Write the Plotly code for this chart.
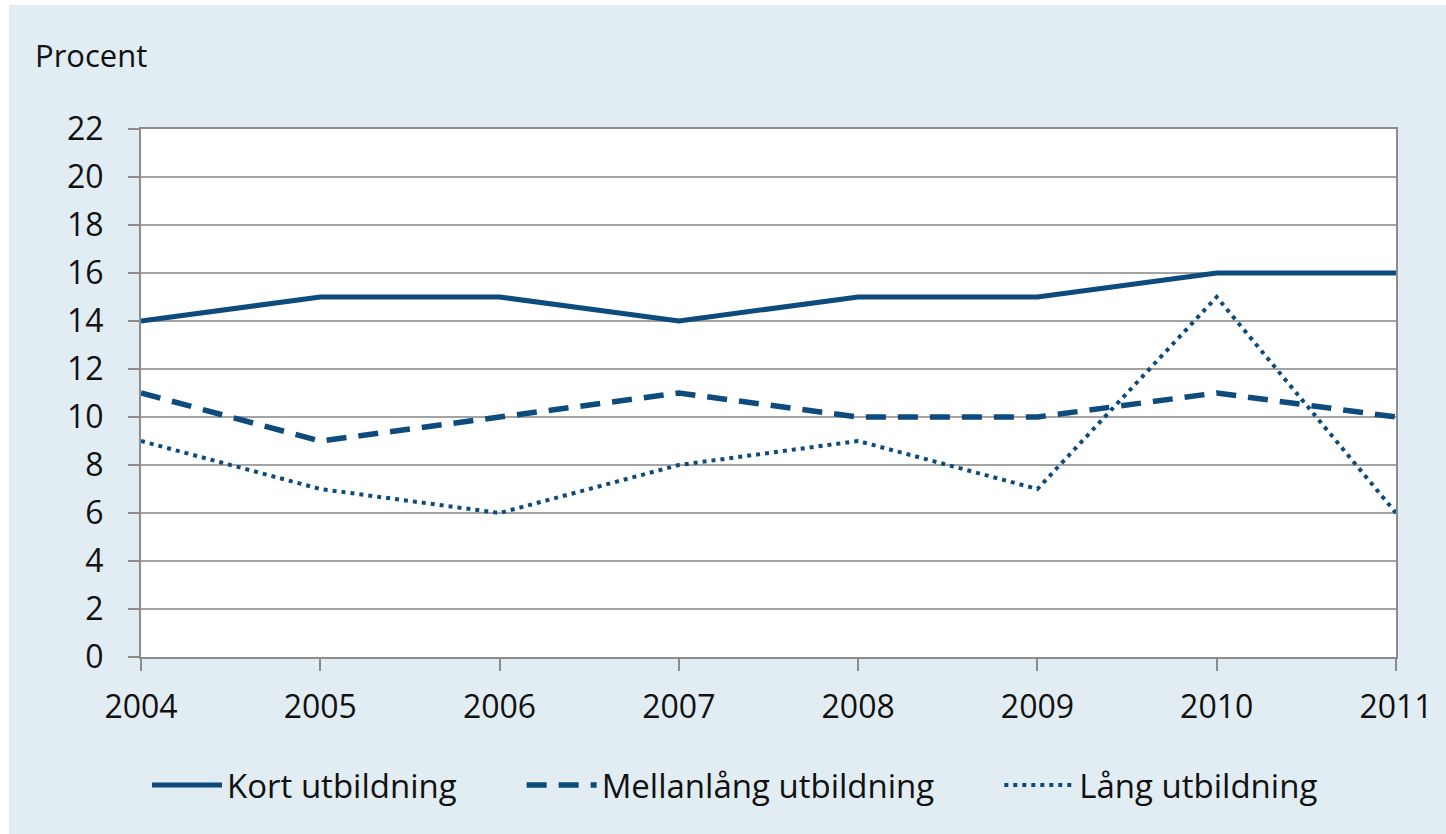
import plotly.graph_objects as go

years = [2004, 2005, 2006, 2007, 2008, 2009, 2010, 2011]
kort = [14, 15, 15, 14, 15, 15, 16, 16]
mellan = [11, 9, 10, 11, 10, 10, 11, 10]
lang = [9, 7, 6, 8, 9, 7, 15, 6]
series_names = ["Kort utbildning", "Mellanlång utbildning", "Lång utbildning"]
y_title = "Procent"

color = "#0c4b7b"
font_family = "Open Sans, Lato, DejaVu Sans, sans-serif"
pad = "\u00a0" * 7

fig = go.Figure()
fig.add_trace(go.Scatter(x=years, y=kort, mode="lines", name=series_names[0] + pad,
                         line=dict(color=color, width=5)))
fig.add_trace(go.Scatter(x=years, y=mellan, mode="lines", name=series_names[1] + pad,
                         line=dict(color=color, width=5.5, dash="20px,12px")))
fig.add_trace(go.Scatter(x=years, y=lang, mode="lines", name=series_names[2],
                         line=dict(color=color, width=4, dash="4px,5px")))

L, R, T, B = 141, 50, 129, 177
W, H = 1446, 834
pw = W - L - R
ph = H - T - B

def px_x(p):
    return (p - L) / pw

def px_y(p):
    return (H - B - p) / ph

fig.update_layout(
    width=W, height=H,
    margin=dict(l=L, r=R, t=T, b=B, pad=0),
    paper_bgcolor="#e1ecf3",
    plot_bgcolor="white",
    font=dict(family=font_family, color="#111111", size=32),
    showlegend=True,
    legend=dict(orientation="h", x=px_x(735), xanchor="center",
                y=px_y(785), yanchor="middle",
                font=dict(size=33), bgcolor="rgba(0,0,0,0)",
                itemwidth=70, tracegroupgap=0),
    xaxis=dict(range=[2004, 2011], tickmode="array", tickvals=years,
               ticktext=[str(y) for y in years],
               showgrid=False, zeroline=False,
               showline=True, linecolor="#8c8c8c", linewidth=2, mirror=True,
               ticks="outside", ticklen=12, tickwidth=2, tickcolor="#8c8c8c",
               tickfont=dict(size=32), ticklabelstandoff=9),
    yaxis=dict(range=[0, 22], tickmode="linear", tick0=0, dtick=2,
               showgrid=True, gridcolor="#a3a3a3", gridwidth=1.5,
               zeroline=False,
               showline=True, linecolor="#8c8c8c", linewidth=2, mirror=True,
               ticks="outside", ticklen=11, tickwidth=2, tickcolor="#8c8c8c",
               tickfont=dict(size=32), ticklabelstandoff=18),
    annotations=[dict(text=y_title, xref="paper", yref="paper",
                      x=px_x(33), y=px_y(55), xanchor="left", yanchor="middle",
                      showarrow=False, font=dict(size=31))],
    shapes=[
        dict(type="rect", xref="paper", yref="paper",
             x0=px_x(0), x1=px_x(9), y0=px_y(H + 5), y1=px_y(-5),
             fillcolor="white", line=dict(width=0), layer="below"),
        dict(type="rect", xref="paper", yref="paper",
             x0=px_x(0), x1=px_x(W + 5), y0=px_y(5), y1=px_y(-5),
             fillcolor="white", line=dict(width=0), layer="below"),
    ],
)

fig.write_html("out.html")
